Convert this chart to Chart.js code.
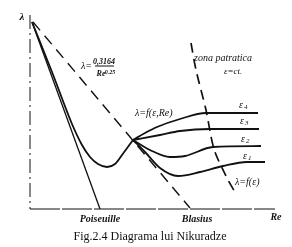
<!DOCTYPE html>
<html>
<head>
<meta charset="utf-8">
<script src="https://cdn.jsdelivr.net/npm/chart.js@4.4.0/dist/chart.umd.min.js"></script>
<style>
  html, body { margin: 0; padding: 0; background: #fff; }
  #wrap { width: 292px; height: 247px; }
</style>
</head>
<body>
<div id="wrap"><canvas id="myChart"></canvas></div>
<script>
// Schematic units: x ~ Re, y ~ lambda (origin at the axes corner)
const poiseuilleX = [2, 70];
const poiseuilleY = [187, 0];

const blasiusX = [3, 160];
const blasiusY = [187, 1];

// laminar + transition curve down to the common point
const laminarX = [2, 22, 42, 52, 60, 68, 77, 85, 92, 103];
const laminarY = [187, 137, 85, 64, 52, 45, 42, 45, 54, 69];

// rough pipe curves, eps4 (top) .. eps1 (bottom)
const eps4X = [103, 115, 127, 150, 176, 228];
const eps4Y = [69, 76, 82, 90, 96, 96];
const eps3X = [103, 130, 150, 180, 229];
const eps3Y = [69, 74, 78, 80, 80];
const eps2X = [103, 120, 140, 155, 183, 231];
const eps2Y = [69, 59, 52, 53, 62, 63];
const eps1X = [103, 115, 130, 148, 170, 193, 217, 235];
const eps1Y = [69, 57, 41, 33, 37, 43, 47, 47];

// boundary of the quadratic zone
const zoneX = [161, 166, 176, 184, 196, 206];
const zoneY = [166, 139, 99, 60, 33, 15];

const axisYX = [0, 0];
const axisYY = [194, 0];
const axisXX = [0, 245];
const axisXY = [0, 0];

const epsLabels = ['4', '3', '2', '1'];
const epsLabelX = [209, 210, 211, 213];
const epsLabelY = [104, 88, 70, 53];

const pts = (xs, ys) => xs.map((x, i) => ({ x: x, y: ys[i] }));

function line(xs, ys, opts) {
    return Object.assign({
        data: pts(xs, ys),
        borderColor: '#111',
        borderWidth: 1.8,
        pointRadius: 0,
        fill: false,
        tension: 0
    }, opts || {});
}

const data = {
    datasets: [
        line(axisYX, axisYY, { borderWidth: 1, borderDash: [14, 4, 2, 4] }),
        line(axisXX, axisXY, { borderWidth: 1.2, borderDash: [30, 2] }),
        line(poiseuilleX, poiseuilleY, { borderWidth: 1.3 }),
        line(blasiusX, blasiusY, { borderWidth: 1.4, borderDash: [11, 7] }),
        line(laminarX, laminarY, { cubicInterpolationMode: 'monotone' }),
        line(eps4X, eps4Y, { cubicInterpolationMode: 'monotone' }),
        line(eps3X, eps3Y, { cubicInterpolationMode: 'monotone' }),
        line(eps2X, eps2Y, { cubicInterpolationMode: 'monotone' }),
        line(eps1X, eps1Y, { cubicInterpolationMode: 'monotone' }),
        line(zoneX, zoneY, { borderWidth: 1.7, borderDash: [10, 6], tension: 0.3 })
    ]
};

// Text annotations drawn at data positions
const serif = '"Liberation Serif", "DejaVu Serif", serif';
const textPlugin = {
    id: 'texts',
    afterDraw(chart) {
        const ctx = chart.ctx;
        const sx = chart.scales.x, sy = chart.scales.y;
        const px = v => sx.getPixelForValue(v);
        const py = v => sy.getPixelForValue(v);
        ctx.save();
        ctx.fillStyle = '#111';
        ctx.strokeStyle = '#111';
        ctx.textBaseline = 'middle';

        function txt(s, x, y, font, align) {
            ctx.font = font;
            ctx.textAlign = align || 'left';
            ctx.fillText(s, px(x), py(y));
        }

        txt('λ', -8, 192, 'italic bold 11px ' + serif, 'center');

        // Blasius formula
        txt('λ=', 51, 143, 'italic 10px ' + serif);
        txt('0,3164', 74, 147, 'italic bold 8px ' + serif, 'center');
        ctx.lineWidth = 1;
        ctx.beginPath();
        ctx.moveTo(px(65), py(143));
        ctx.lineTo(px(84), py(143));
        ctx.stroke();
        txt('Re', 71, 135, 'italic bold 8px ' + serif, 'center');
        txt('0.25', 80, 137, 'italic bold 6px ' + serif, 'center');

        txt('λ=f(ε,Re)', 105, 96, 'italic 10px ' + serif);
        txt('zona patratica', 164, 151, 'italic 10px ' + serif);
        txt('ε=ct.', 194, 137, 'italic 9px ' + serif);
        txt('λ=f(ε)', 205, 27, 'italic 10px ' + serif);

        epsLabels.forEach((n, i) => {
            txt('ε', epsLabelX[i], epsLabelY[i], 'italic 10px ' + serif);
            txt(n, epsLabelX[i] + 5, epsLabelY[i] - 2, 'italic 7px ' + serif);
        });

        txt('Poiseuille', 70, -10, 'italic bold 10px ' + serif, 'center');
        txt('Blasius', 167, -10, 'italic bold 10px ' + serif, 'center');
        txt('Re', 246, -8, 'italic bold 10px ' + serif, 'center');

        txt('Fig.2.4 Diagrama lui Nikuradze', 120, -28, '12px ' + serif, 'center');
        ctx.restore();
    }
};

const config = {
    type: 'line',
    data: data,
    options: {
        responsive: true,
        maintainAspectRatio: false,
        animation: false,
        layout: { padding: 0 },
        plugins: {
            legend: { display: false },
            tooltip: { enabled: false }
        },
        scales: {
            x: { type: 'linear', min: -30, max: 262, display: false },
            y: { type: 'linear', min: -38, max: 209, display: false }
        }
    },
    plugins: [textPlugin]
};

const myChart = new Chart(document.getElementById('myChart'), config);
</script>
</body>
</html>
